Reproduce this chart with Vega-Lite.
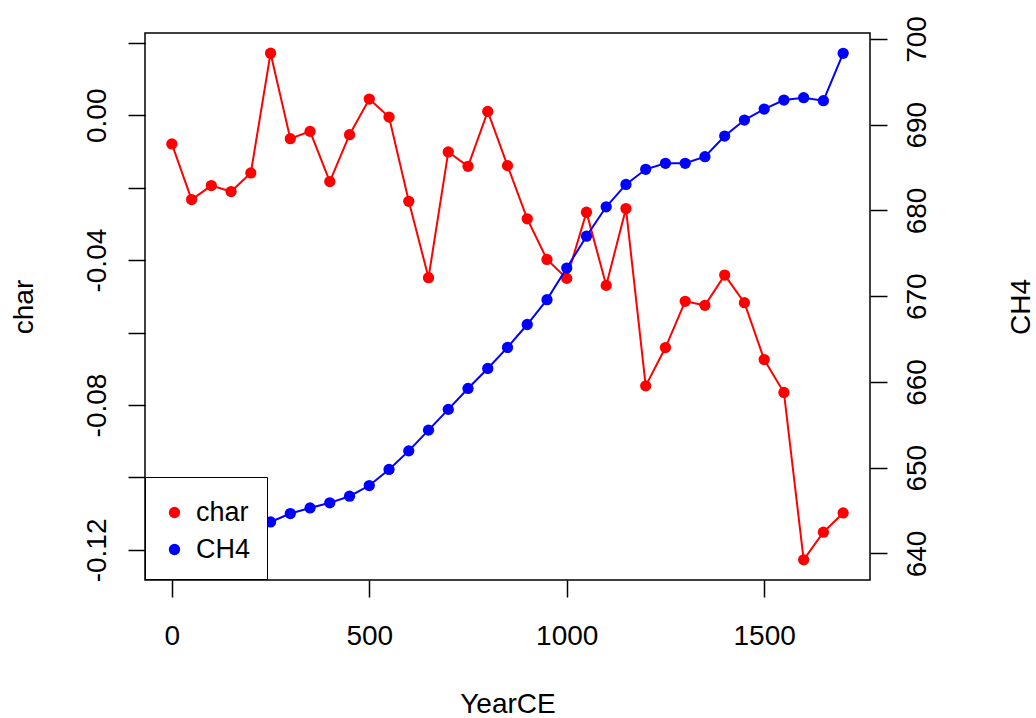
{
  "$schema": "https://vega.github.io/schema/vega-lite/v6.json",
  "width": 725,
  "height": 547,
  "autosize": {"type": "none"},
  "padding": {"left": 145, "top": 33, "right": 166, "bottom": 138},
  "background": "white",
  "config": {
    "view": {"stroke": "black", "strokeWidth": 1.5},
    "font": "Liberation Sans",
    "axis": {
      "domain": false,
      "grid": false,
      "tickColor": "black",
      "tickWidth": 1.5,
      "tickSize": 17,
      "labelFont": "Liberation Sans",
      "labelFontSize": 28,
      "labelColor": "black",
      "labelFlush": false,
      "labelOverlap": false,
      "labelBound": false,
      "titleFont": "Liberation Sans",
      "titleFontSize": 28,
      "titleFontWeight": "normal",
      "titleColor": "black"
    }
  },
  "data": {
    "values": [
      {"YearCE": 0, "char": -0.00793, "CH4": 639.3},
      {"YearCE": 50, "char": -0.02328, "CH4": 640.3},
      {"YearCE": 100, "char": -0.01942, "CH4": 641.2},
      {"YearCE": 150, "char": -0.02107, "CH4": 642.1},
      {"YearCE": 200, "char": -0.01592, "CH4": 642.9},
      {"YearCE": 250, "char": 0.01713, "CH4": 643.67},
      {"YearCE": 300, "char": -0.00647, "CH4": 644.65},
      {"YearCE": 350, "char": -0.00446, "CH4": 645.3},
      {"YearCE": 400, "char": -0.01832, "CH4": 645.9},
      {"YearCE": 450, "char": -0.00537, "CH4": 646.67},
      {"YearCE": 500, "char": 0.00446, "CH4": 647.92},
      {"YearCE": 550, "char": -0.0005, "CH4": 649.79},
      {"YearCE": 600, "char": -0.02375, "CH4": 651.96},
      {"YearCE": 650, "char": -0.04485, "CH4": 654.38},
      {"YearCE": 700, "char": -0.01014, "CH4": 656.8},
      {"YearCE": 750, "char": -0.0141, "CH4": 659.24},
      {"YearCE": 800, "char": 0.00105, "CH4": 661.57},
      {"YearCE": 850, "char": -0.01391, "CH4": 664.03},
      {"YearCE": 900, "char": -0.0286, "CH4": 666.7},
      {"YearCE": 950, "char": -0.03981, "CH4": 669.6},
      {"YearCE": 1000, "char": -0.04504, "CH4": 673.28},
      {"YearCE": 1050, "char": -0.02678, "CH4": 677.0},
      {"YearCE": 1100, "char": -0.04697, "CH4": 680.43},
      {"YearCE": 1150, "char": -0.02576, "CH4": 683.04},
      {"YearCE": 1200, "char": -0.07471, "CH4": 684.8},
      {"YearCE": 1250, "char": -0.06413, "CH4": 685.5},
      {"YearCE": 1300, "char": -0.05138, "CH4": 685.5},
      {"YearCE": 1350, "char": -0.05248, "CH4": 686.27},
      {"YearCE": 1400, "char": -0.04413, "CH4": 688.68},
      {"YearCE": 1450, "char": -0.05174, "CH4": 690.55},
      {"YearCE": 1500, "char": -0.06744, "CH4": 691.83},
      {"YearCE": 1550, "char": -0.07653, "CH4": 692.88},
      {"YearCE": 1600, "char": -0.12273, "CH4": 693.15},
      {"YearCE": 1650, "char": -0.1151, "CH4": 692.8},
      {"YearCE": 1700, "char": -0.10978, "CH4": 698.33}
    ]
  },
  "layer": [
    {
      "encoding": {
        "x": {
          "field": "YearCE",
          "type": "quantitative",
          "scale": {"domain": [-68, 1768], "nice": false, "zero": false},
          "axis": {
            "values": [0, 500, 1000, 1500],
            "format": "d",
            "title": "YearCE",
            "labelBaseline": "alphabetic",
            "labelPadding": 47,
            "titleBaseline": "alphabetic",
            "titleY": 132
          }
        },
        "y": {
          "field": "char",
          "type": "quantitative",
          "scale": {"domain": [-0.1283, 0.0227], "nice": false, "zero": false},
          "axis": {
            "orient": "left",
            "values": [0.02, 0, -0.02, -0.04, -0.06, -0.08, -0.1, -0.12],
            "labelExpr": "datum.value == 0 ? '0.00' : (datum.value == -0.04 ? '-0.04' : (datum.value == -0.08 ? '-0.08' : (datum.value == -0.12 ? '-0.12' : '')))",
            "labelAngle": 270,
            "labelAlign": "center",
            "labelBaseline": "alphabetic",
            "labelPadding": 23,
            "title": "char",
            "titleAngle": 270,
            "titleAlign": "center",
            "titleBaseline": "alphabetic",
            "titleX": -113,
            "titleY": 273.5
          }
        }
      },
      "layer": [
        {"mark": {"type": "line", "color": "#FF0000", "strokeWidth": 2}},
        {
          "mark": {"type": "point", "filled": true, "size": 127, "opacity": 1},
          "encoding": {
            "color": {
              "datum": "char",
              "scale": {"domain": ["char", "CH4"], "range": ["#FF0000", "#0000FF"]},
              "legend": {
                "orient": "none",
                "legendX": 0,
                "legendY": 444,
                "title": " ",
                "titleFontSize": 1,
                "titlePadding": 5,
                "strokeColor": "black",
                "fillColor": "white",
                "padding": 16,
                "labelFont": "Liberation Sans",
                "labelFontSize": 27,
                "labelColor": "black",
                "labelOffset": 8,
                "rowPadding": 9,
                "symbolType": "circle",
                "symbolSize": 127,
                "symbolStrokeWidth": 0,
                "symbolOpacity": 1
              }
            }
          }
        }
      ]
    },
    {
      "encoding": {
        "x": {"field": "YearCE", "type": "quantitative"},
        "y": {
          "field": "CH4",
          "type": "quantitative",
          "scale": {"domain": [636.9, 700.7], "nice": false, "zero": false},
          "axis": {
            "orient": "right",
            "values": [640, 650, 660, 670, 680, 690, 700],
            "format": "d",
            "labelAngle": 270,
            "labelAlign": "center",
            "labelBaseline": "alphabetic",
            "labelPadding": 38,
            "title": "CH4",
            "titleAngle": 270,
            "titleAlign": "center",
            "titleBaseline": "alphabetic",
            "titleX": 159,
            "titleY": 273.5
          }
        }
      },
      "layer": [
        {"mark": {"type": "line", "color": "#0000FF", "strokeWidth": 2}},
        {
          "mark": {"type": "point", "filled": true, "size": 127, "opacity": 1},
          "encoding": {"color": {"datum": "CH4"}}
        }
      ]
    }
  ],
  "resolve": {"scale": {"y": "independent"}}
}
